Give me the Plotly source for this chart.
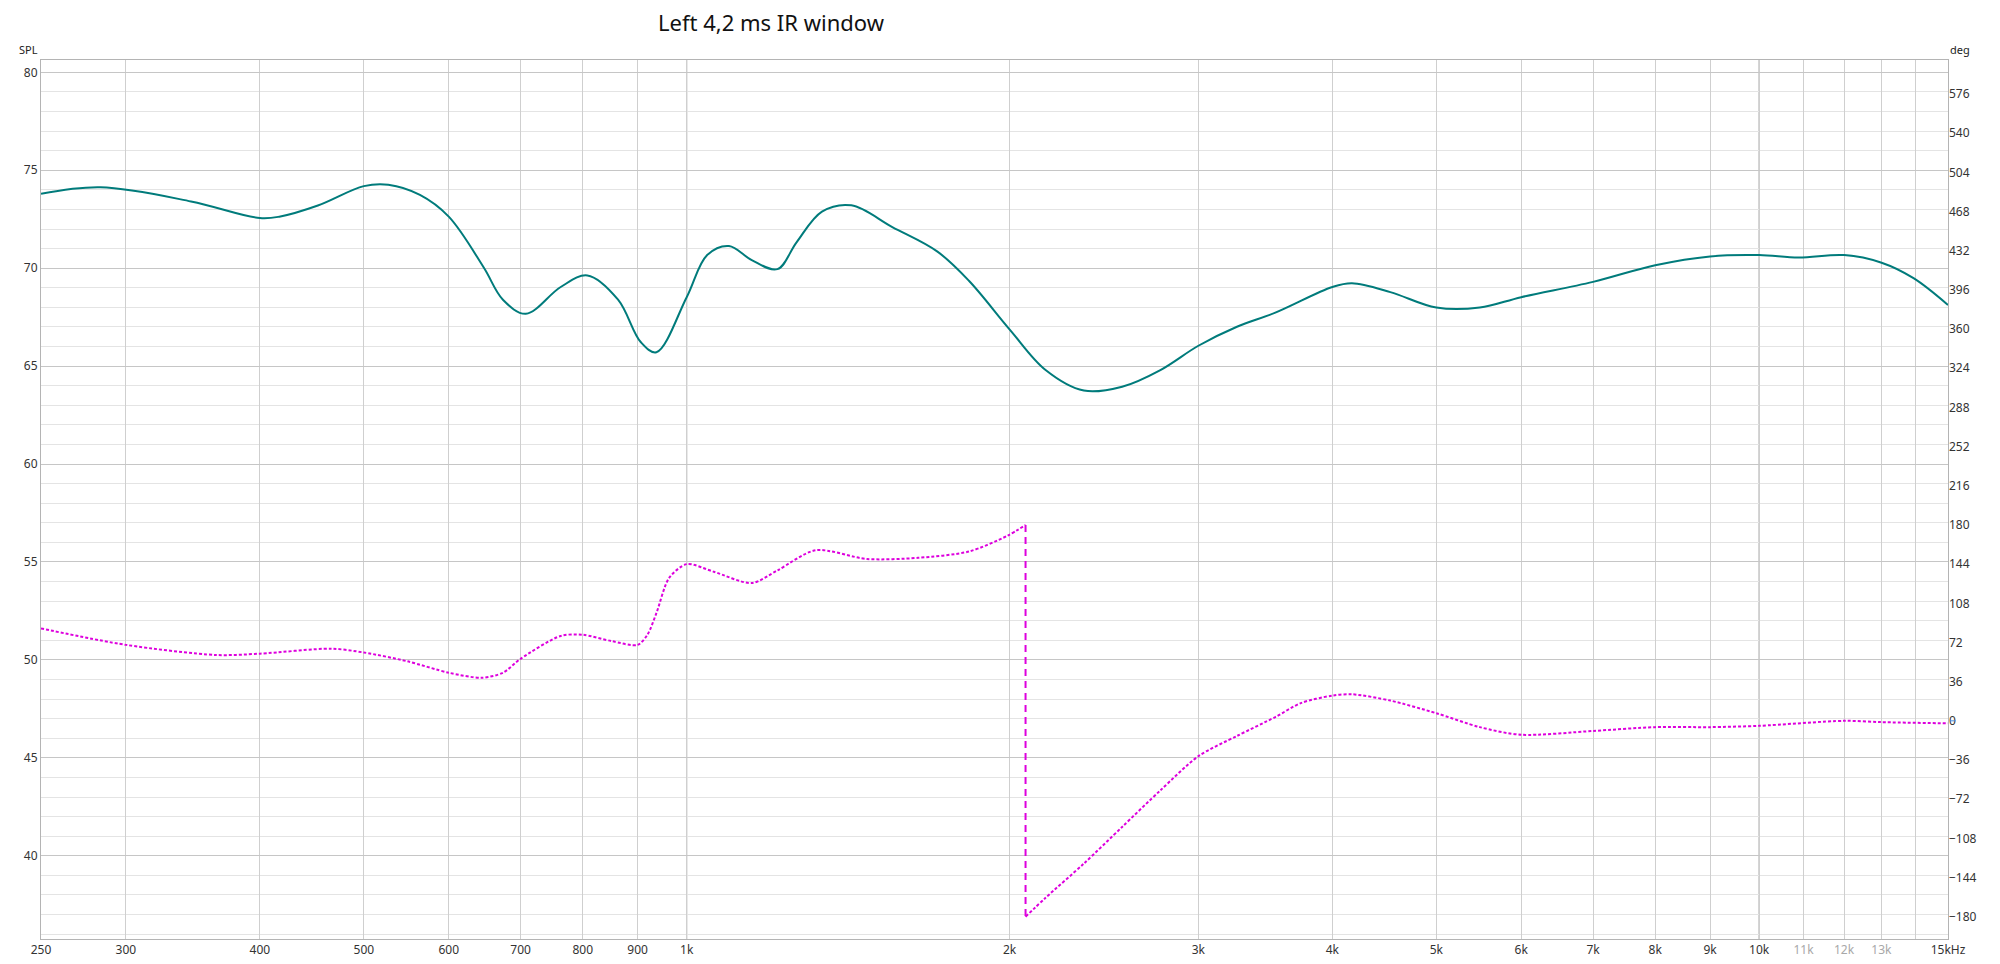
import plotly.graph_objects as go

# ---- data ----
spl_freq = [250, 284, 345, 400, 417, 453, 500, 527, 564, 600, 647, 674, 708, 763, 808, 863, 906, 937,
            1000, 1045, 1095, 1150, 1215, 1266, 1337, 1424, 1555, 1712, 1833, 2000, 2161, 2346, 2547,
            2765, 3000, 3259, 3539, 4000, 4172, 4530, 5000, 5489, 6000, 7000, 8000, 9000, 10000,
            10883, 12000, 13007, 13930, 15000]
spl_db = [73.80, 74.13, 73.41, 72.56, 72.63, 73.20, 74.19, 74.26, 73.74, 72.63, 70.02, 68.39, 67.67,
          69.04, 69.63, 68.39, 66.23, 65.71, 68.52, 70.67, 71.13, 70.41, 69.95, 71.32, 72.89, 73.21,
          72.10, 70.86, 69.36, 66.88, 64.80, 63.75, 63.95, 64.80, 66.04, 67.01, 67.73, 69.04, 69.23,
          68.78, 67.99, 67.99, 68.52, 69.30, 70.15, 70.60, 70.67, 70.54, 70.67, 70.28, 69.49, 68.12]

phase_a_freq = [250, 300, 364, 400, 466, 500, 549, 600, 644, 674, 700, 763, 800, 851, 900, 919, 937,
                963, 1000, 1060, 1150, 1215, 1319, 1473, 1643, 1833, 1990, 2070]
phase_a_deg = [84.9, 69.8, 60.5, 61.7, 66.3, 62.8, 54.7, 44.2, 39.6, 44.2, 57.0, 78.0, 79.1, 73.3,
               69.8, 79.0, 98.9, 131.3, 144.0, 137.0, 126.6, 138.2, 156.8, 148.7, 149.8, 155.6, 170.0, 180.0]

phase_b_freq = [2070, 2161, 2346, 2547, 2765, 3000, 3259, 3539, 3738, 4000, 4172, 4530, 5000, 5489,
                6000, 7000, 8000, 9000, 10000, 12000, 13007, 15000]
phase_b_deg = [-180.0, -162.6, -131.2, -97.5, -63.9, -32.5, -13.9, 3.5, 16.3, 23.2, 24.4, 18.6, 7.0,
               -5.8, -12.8, -9.3, -5.8, -5.8, -4.6, 0.0, -1.2, -2.3]

x_tickvals = [250, 300, 400, 500, 600, 700, 800, 900, 1000, 2000, 3000, 4000, 5000, 6000, 7000,
              8000, 9000, 10000, 11000, 12000, 13000, 14000, 15000]
x_ticktext = ["250", "300", "400", "500", "600", "700", "800", "900", "1k", "2k", "3k", "4k", "5k",
              "6k", "7k", "8k", "9k", "10k",
              "<span style='color:#a8a8a8'>11k</span>",
              "<span style='color:#a8a8a8'>12k</span>",
              "<span style='color:#a8a8a8'>13k</span>",
              "", "15kHz"]
deg_ticks = list(range(-180, 577, 36))
major_freqs = [1000, 10000]

TEAL = "#007B7B"
MAGENTA = "#DD00DD"
FONT = "Noto Sans"

fig = go.Figure()

fig.add_trace(go.Scatter(x=spl_freq, y=spl_db, mode="lines",
                         line=dict(color=TEAL, width=2, shape="spline", smoothing=1.0),
                         hoverinfo="skip", showlegend=False))

fig.add_trace(go.Scatter(x=phase_a_freq, y=phase_a_deg, yaxis="y2", mode="lines",
                         line=dict(color=MAGENTA, width=2, dash="3px,2px", shape="spline", smoothing=0.8),
                         hoverinfo="skip", showlegend=False))
fig.add_trace(go.Scatter(x=[phase_a_freq[-1], phase_b_freq[0]], y=[phase_a_deg[-1], phase_b_deg[0]],
                         yaxis="y2", mode="lines",
                         line=dict(color=MAGENTA, width=2, dash="7px,5px"),
                         hoverinfo="skip", showlegend=False))
fig.add_trace(go.Scatter(x=phase_b_freq, y=phase_b_deg, yaxis="y2", mode="lines",
                         line=dict(color=MAGENTA, width=2, dash="3px,2px", shape="spline", smoothing=0.8),
                         hoverinfo="skip", showlegend=False))

for f in major_freqs:
    fig.add_shape(type="line", xref="x", yref="paper", x0=f, x1=f, y0=0, y1=1,
                  line=dict(color="#8a8a8a", width=1), layer="between")

# small blue marker next to the 0 label on the phase axis
fig.add_shape(type="line", xref="paper", yref="y2", x0=1.0012, x1=1.0040, y0=0, y1=0,
              line=dict(color="#4a90e2", width=1))

fig.update_layout(
    width=2000, height=964,
    margin=dict(l=41, r=52, t=60, b=25, autoexpand=False),
    paper_bgcolor="white", plot_bgcolor="white",
    font=dict(family=FONT, size=12, color="#333333"),
    title=dict(text="Left 4,2 ms IR window", x=0.3855, xanchor="center",
               y=1 - 23 / 964, yanchor="middle", automargin=False,
               font=dict(family=FONT, size=22, color="#111111")),
    xaxis=dict(type="log", range=[2.39794, 4.17609], tickvals=x_tickvals, ticktext=x_ticktext,
               showgrid=True, gridcolor="#cfcfcf", gridwidth=1, zeroline=False, automargin=False,
               showline=True, linecolor="#b4b4b4", linewidth=1, mirror=True, ticks="",
               tickfont=dict(size=12, color="#333333")),
    yaxis=dict(range=[35.75, 80.63], tick0=0, dtick=5, showgrid=True, gridcolor="#c6c6c6",
               minor=dict(dtick=1, tick0=0, showgrid=True, gridcolor="#e4e4e4"),
               zeroline=False, showline=True, linecolor="#b4b4b4", linewidth=1, mirror=True,
               ticks="", automargin=False, tickfont=dict(size=12, color="#333333")),
    yaxis2=dict(range=[-200.5, 607.3], overlaying="y", side="right", tickvals=deg_ticks,
                showgrid=False, zeroline=False, showline=False, ticks="", automargin=False,
                tickfont=dict(size=12, color="#333333")),
    annotations=[
        dict(text="SPL", xref="paper", yref="paper", x=-0.0068, y=1.0125, showarrow=False,
             xanchor="center", yanchor="middle", font=dict(size=11, color="#222222")),
        dict(text="deg", xref="paper", yref="paper", x=1.0063, y=1.0114, showarrow=False,
             xanchor="center", yanchor="middle", font=dict(size=11, color="#222222")),
    ],
)

fig.write_html("out.html", config={"displayModeBar": False},
               post_script="document.body.style.margin='0';document.body.style.overflow='hidden';")
